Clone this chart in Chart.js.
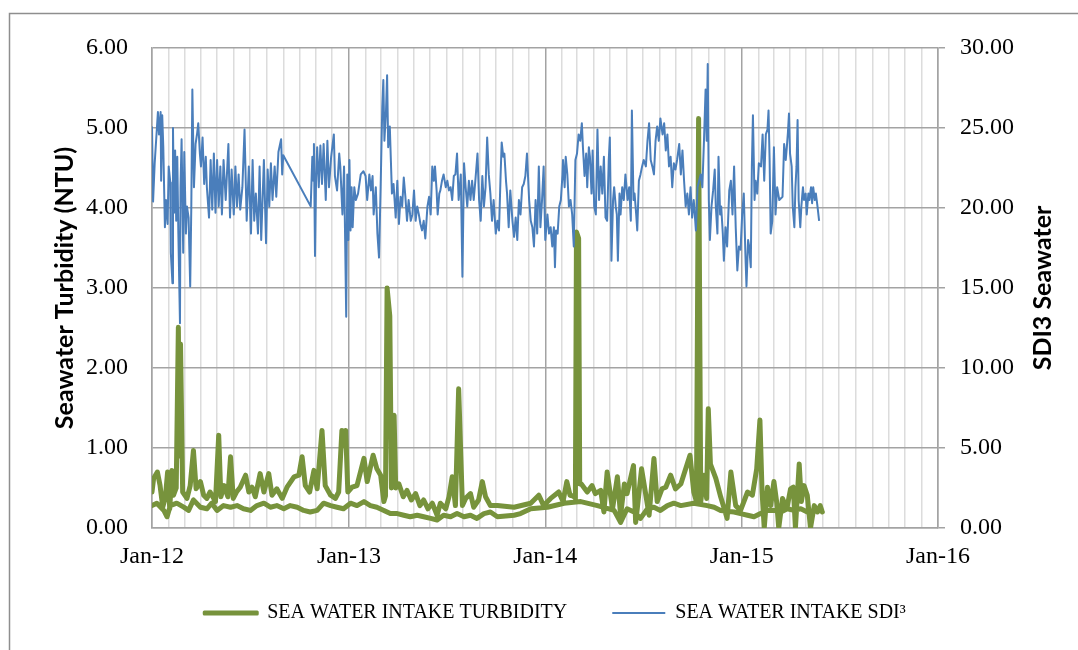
<!DOCTYPE html>
<html>
<head>
<meta charset="utf-8">
<title>Sea water intake turbidity and SDI</title>
<script src="https://cdn.jsdelivr.net/npm/chart.js@4.4.1/dist/chart.umd.min.js"></script>
<style>
  html, body { margin: 0; padding: 0; background: #ffffff; }
  #wrap { width: 1078px; height: 650px; position: relative; }
</style>
</head>
<body>
<div id="wrap"><canvas id="chart" width="1078" height="650"></canvas></div>
<script>
// ---- data: x = days since 1 Jan 2012 ----
const yearTickLabels = ['Jan-12', 'Jan-13', 'Jan-14', 'Jan-15', 'Jan-16'];
const seriesLabels = ['SEA WATER INTAKE TURBIDITY', 'SEA WATER INTAKE SDI\u00B3'];
const leftAxisTitle = 'Seawater Turbidity (NTU)';
const rightAxisTitle = 'SDI3 Seawater';

// SDI readings [day, SDI]
const sdiReadings = [
  [0,25.1],[2,20.4],[5,22.8],[11,26.0],[13,24.6],[16,26.0],[17,21.7],[19,25.8],[21,23.8],[24,18.8],
  [26,20.5],[29,19.0],[31,22.6],[34,21.6],[35,17.2],[38,15.3],[39,25.0],[41,19.7],[43,23.6],[45,19.2],
  [47,23.2],[49,18.4],[52,12.8],[53,21.3],[55,24.3],[58,17.2],[60,23.5],[63,18.4],[65,20.1],[68,19.4],
  [71,15.1],[73,19.9],[75,27.4],[78,21.3],[81,24.0],[84,24.7],[86,25.3],[89,23.4],[91,22.6],[94,24.4],
  [97,21.5],[100,23.2],[102,21.3],[106,19.4],[109,23.0],[112,19.9],[115,23.4],[118,19.7],[121,23.0],[124,20.1],
  [127,22.6],[130,19.6],[133,23.0],[137,20.5],[140,22.6],[142,24.0],[145,19.4],[148,22.4],[152,19.6],[155,22.6],
  [158,20.1],[161,22.1],[164,19.9],[168,21.3],[172,24.9],[176,19.2],[180,22.6],[184,18.4],[187,23.0],[190,19.2],
  [193,20.9],[197,18.4],[200,22.6],[203,18.0],[208,23.0],[212,17.8],[215,22.4],[218,20.1],[221,22.8],[224,20.5],
  [228,22.6],[231,20.7],[235,23.5],[240,24.3],[242,22.1],[244,23.3],[295,20.1],[298,23.2],[300,21.7],[301,24.0],
  [303,17.0],[305,21.9],[307,23.8],[310,21.3],[313,23.9],[316,21.5],[319,24.0],[323,20.5],[326,24.2],[329,21.3],
  [333,23.2],[338,24.6],[340,22.0],[344,21.1],[348,23.4],[350,22.6],[354,19.6],[357,22.6],[359,18.0],[361,13.2],
  [363,22.1],[365,18.0],[367,23.0],[369,18.6],[371,21.3],[373,18.8],[376,21.3],[379,20.5],[383,20.9],[388,22.1],
  [393,22.3],[397,22.0],[400,20.5],[404,22.1],[407,21.1],[410,22.0],[412,19.6],[416,21.3],[419,18.4],[422,16.9],
  [425,21.3],[428,26.3],[430,28.0],[432,24.2],[435,26.1],[437,28.3],[439,23.8],[442,25.1],[446,20.9],[449,21.5],
  [453,19.4],[456,21.7],[459,19.0],[462,20.7],[465,20.1],[468,21.9],[471,20.7],[474,19.2],[477,20.5],[481,19.2],
  [484,19.6],[487,21.1],[490,19.2],[493,20.1],[496,19.6],[499,19.0],[502,18.6],[505,19.2],[508,18.1],[512,20.1],
  [515,20.7],[518,19.6],[521,22.6],[524,21.7],[526,22.6],[529,21.1],[531,19.6],[534,20.9],[536,21.1],[539,21.7],
  [542,22.1],[546,21.3],[549,21.7],[552,21.1],[555,21.3],[558,20.5],[561,22.0],[564,22.1],[567,23.4],[570,20.5],
  [574,22.1],[577,15.7],[580,22.8],[583,21.3],[586,20.1],[589,21.7],[592,20.5],[595,21.7],[598,20.5],[601,21.7],
  [605,23.4],[608,20.5],[611,19.2],[614,22.0],[617,20.1],[620,21.3],[623,24.4],[626,22.1],[629,20.9],[632,19.2],
  [635,20.5],[639,18.4],[642,19.2],[645,18.6],[648,22.1],[650,24.1],[653,23.2],[655,23.4],[658,21.7],[660,20.9],
  [663,18.8],[666,21.1],[670,19.2],[673,18.2],[676,19.4],[679,18.0],[682,20.5],[685,19.6],[688,21.3],[691,21.5],
  [694,22.0],[697,23.4],[701,20.5],[704,19.2],[707,18.8],[710,17.6],[713,20.5],[716,18.4],[719,22.6],[722,18.8],
  [725,20.5],[728,22.6],[731,18.0],[735,19.6],[738,18.4],[741,18.8],[744,17.6],[747,18.8],[749,16.3],[751,18.6],
  [754,18.4],[757,20.1],[760,20.5],[763,22.1],[764,23.0],[767,21.3],[769,23.2],[772,22.1],[775,20.1],[778,20.5],
  [781,19.6],[784,17.6],[787,23.0],[790,23.4],[793,24.6],[796,24.2],[799,25.3],[801,23.8],[804,22.0],[807,23.4],
  [809,21.3],[812,23.8],[814,23.2],[817,20.9],[819,23.6],[822,20.1],[825,19.6],[828,24.9],[831,20.5],[834,22.6],
  [837,20.9],[840,23.2],[843,19.4],[846,19.2],[849,23.0],[851,24.4],[854,16.7],[857,20.5],[859,21.3],[862,20.1],
  [864,19.6],[866,16.7],[869,20.9],[871,19.6],[874,21.3],[877,20.5],[880,22.1],[884,20.5],[887,21.3],[890,19.2],
  [892,26.1],[895,20.5],[897,20.9],[900,19.6],[902,18.6],[905,21.7],[908,22.1],[911,22.6],[914,23.0],[918,22.6],
  [921,24.2],[924,25.3],[927,23.0],[930,22.6],[933,22.1],[936,24.2],[939,25.1],[942,24.2],[945,25.6],[949,24.6],
  [952,25.3],[955,23.6],[958,24.6],[961,22.6],[964,23.2],[967,21.3],[970,22.8],[973,22.4],[976,23.0],[980,24.0],
  [983,22.1],[986,23.6],[989,21.7],[992,20.1],[995,20.9],[998,19.6],[1001,21.3],[1004,19.4],[1007,20.5],[1011,18.6],
  [1014,21.3],[1017,21.7],[1020,22.1],[1023,21.3],[1026,24.2],[1029,27.4],[1031,24.2],[1033,29.0],[1035,20.5],[1037,18.0],
  [1040,20.1],[1043,21.1],[1046,22.4],[1048,20.1],[1051,18.4],[1053,23.2],[1056,19.6],[1058,20.1],[1061,18.4],[1063,16.7],
  [1066,18.8],[1069,17.6],[1073,21.1],[1076,21.7],[1079,19.6],[1082,22.6],[1085,18.8],[1088,16.1],[1091,17.6],[1094,17.4],
  [1097,19.6],[1100,20.9],[1103,17.1],[1105,15.1],[1108,18.0],[1110,17.6],[1113,16.3],[1115,22.6],[1117,25.8],[1120,20.5],
  [1122,21.7],[1125,20.9],[1128,22.8],[1132,22.6],[1135,24.6],[1138,21.7],[1141,24.6],[1144,24.9],[1146,26.1],[1148,23.0],
  [1150,18.4],[1153,19.2],[1156,23.8],[1159,19.6],[1162,21.3],[1166,20.5],[1172,20.7],[1175,24.0],[1178,23.0],[1180,23.8],
  [1182,24.7],[1184,25.9],[1186,23.4],[1189,22.6],[1191,20.1],[1194,18.8],[1196,21.3],[1198,22.6],[1200,25.5],[1202,20.5],
  [1205,18.8],[1207,20.1],[1210,21.3],[1212,20.5],[1215,20.9],[1217,19.6],[1220,20.9],[1222,20.5],[1225,21.3],[1227,20.3],
  [1229,21.3],[1232,20.5],[1234,20.9],[1237,20.1],[1240,19.2]
];

// Turbidity [day, NTU]: the record runs forward through the period, then back again
const turbidityOutbound = [
  [0,0.45],[3,0.62],[10,0.70],[15,0.53],[20,0.26],[25,0.39],[29,0.70],[33,0.24],[37,0.72],[40,0.41],
  [45,0.50],[49,2.51],[51,0.90],[53,2.30],[57,0.45],[65,0.37],[71,0.53],[77,0.97],[82,0.49],[90,0.58],
  [96,0.41],[102,0.37],[108,0.45],[118,0.33],[124,1.16],[128,0.39],[134,0.53],[141,0.39],[146,0.89],[151,0.37],
  [157,0.45],[164,0.51],[174,0.66],[180,0.45],[186,0.51],[192,0.39],[201,0.68],[208,0.45],[217,0.68],[223,0.41],
  [232,0.49],[242,0.37],[251,0.51],[264,0.64],[273,0.66],[279,0.89],[285,0.53],[293,0.45],[301,0.72],[307,0.49],
  [316,1.22],[322,0.53],[332,0.41],[341,0.37],[347,0.45],[353,1.22],[357,1.03],[360,1.22],[364,0.45],[372,0.51],
  [381,0.53],[394,0.87],[400,0.58],[411,0.91],[418,0.74],[425,0.66],[431,0.33],[434,0.40],[437,3.00],[442,2.65],
  [445,0.50],[450,1.41],[453,0.50],[459,0.55],[467,0.39],[474,0.47],[482,0.35],[490,0.43],[498,0.28],[505,0.35],
  [513,0.24],[521,0.31],[530,0.16],[536,0.31],[546,0.24],[552,0.39],[558,0.64],[564,0.28],[570,1.74],[577,0.28],
  [583,0.37],[592,0.43],[598,0.26],[607,0.35],[614,0.58],[620,0.39],[629,0.28],[642,0.28],[673,0.26],[704,0.31],
  [719,0.41],[728,0.28],[741,0.37],[756,0.45],[764,0.33],[771,0.58],[777,0.41],[783,0.40],[787,0.37],[789,3.70],
  [793,3.62],[795,0.55],[798,0.55],[809,0.45],[818,0.53],[824,0.43],[834,0.47],[840,0.20],[846,0.70],[856,0.24],
  [865,0.64],[871,0.16],[878,0.55],[883,0.43],[895,0.78],[899,0.07],[902,0.24],[910,0.74],[917,0.45],[924,0.16],
  [933,0.87],[939,0.33],[948,0.49],[955,0.51],[964,0.66],[973,0.49],[983,0.55],[1000,0.91],[1007,0.45],[1012,0.33],
  [1016,5.12],[1020,0.33],[1026,0.66],[1031,0.37],[1034,1.49],[1038,0.80],[1048,0.62],[1057,0.39],[1069,0.12],[1076,0.70],
  [1085,0.28],[1094,0.22],[1107,0.45],[1116,0.41],[1124,0.74],[1130,1.35],[1134,0.45],[1138,0.00],[1144,0.51],[1150,0.28],
  [1156,0.58],[1161,0.33],[1165,0.00],[1172,0.37],[1180,0.24],[1187,0.49],[1192,0.51],[1196,0.00],[1203,0.80],[1207,0.33],
  [1212,0.53],[1218,0.41],[1224,0.00],[1231,0.28],[1237,0.20],[1242,0.28],[1246,0.20]
];
const turbidityReturn = [
  [0,0.28],[9,0.31],[22,0.22],[28,0.14],[34,0.28],[46,0.31],[59,0.26],[68,0.22],[77,0.35],[90,0.26],
  [102,0.24],[111,0.31],[121,0.22],[133,0.28],[146,0.26],[158,0.28],[170,0.24],[183,0.22],[195,0.28],[208,0.31],
  [220,0.26],[232,0.28],[245,0.24],[257,0.28],[270,0.26],[282,0.22],[294,0.20],[307,0.22],[319,0.31],[332,0.28],
  [344,0.26],[356,0.24],[369,0.31],[381,0.28],[394,0.33],[406,0.28],[418,0.26],[431,0.22],[443,0.18],[456,0.18],
  [468,0.16],[480,0.14],[493,0.16],[505,0.14],[518,0.12],[530,0.10],[542,0.16],[555,0.14],[567,0.18],[580,0.14],
  [592,0.16],[604,0.12],[617,0.18],[629,0.20],[642,0.14],[673,0.16],[685,0.18],[704,0.24],[735,0.26],[766,0.31],
  [797,0.33],[828,0.28],[859,0.22],[871,0.07],[883,0.24],[896,0.20],[908,0.12],[921,0.24],[933,0.26],[945,0.22],
  [958,0.28],[970,0.31],[983,0.28],[1007,0.31],[1032,0.28],[1045,0.26],[1057,0.22],[1082,0.20],[1094,0.18],[1107,0.16],
  [1119,0.14],[1131,0.18],[1144,0.22],[1156,0.22],[1169,0.20],[1181,0.24],[1193,0.22],[1206,0.24],[1218,0.20],[1231,0.22],
  [1243,0.24]
];

// ---- calendar helpers ----
const DAY_MS = 86400000;
const ORIGIN = Date.UTC(2012, 0, 1);
const dayOf = (y, m) => (Date.UTC(y, m, 1) - ORIGIN) / DAY_MS;
const monthTicks = [];
for (let y = 2012; y <= 2016; y++) {
  for (let m = 0; m < 12; m++) {
    if (y === 2016 && m > 0) break;
    monthTicks.push(dayOf(y, m));
  }
}
const dateOf = v => new Date(ORIGIN + Math.round(v) * DAY_MS);
const isJanuary = v => dateOf(v).getUTCMonth() === 0;

// ---- styling ----
const SERIF = "'Liberation Serif', 'Times New Roman', serif";
const tickFont = { family: SERIF, size: 24 };
const titleFont = { family: 'Lato', size: 25, weight: 'bold' };
const GREEN = '#77933C';
const BLUE = '#4A7EBB';
const MAJOR = '#a3a3a3';
const MINOR = '#dcdcdc';
const LEGEND_HEIGHT = 60;
const LEGEND_LIFT = 15;

const toXY = pairs => pairs.map(([d, v]) => ({ x: d, y: v }));
const turbidityPath = toXY(turbidityOutbound.concat(turbidityReturn.slice().reverse()));

// chart frame, legend box placement and the right-hand axis title (reads bottom to top)
const framePlugin = {
  id: 'frame',
  beforeLayout(chart) {
    const lg = chart.legend;
    if (lg && !lg._fixedHeight) {
      const fit = lg.fit.bind(lg);
      lg.fit = function () { fit(); this.height = LEGEND_HEIGHT; };
      lg._fixedHeight = true;
    }
  },
  afterLayout(chart) {
    const lg = chart.legend;
    if (lg) { lg.top -= LEGEND_LIFT; lg.bottom -= LEGEND_LIFT; }
  },
  beforeDraw(chart) {
    const { ctx } = chart;
    ctx.save();
    ctx.fillStyle = '#ffffff';
    ctx.fillRect(0, 0, chart.width, chart.height);
    ctx.strokeStyle = '#8e8e8e';
    ctx.lineWidth = 1.5;
    ctx.beginPath();
    ctx.moveTo(9.5, chart.height);
    ctx.lineTo(9.5, 13.5);
    ctx.lineTo(chart.width, 13.5);
    ctx.stroke();
    ctx.restore();
  },
  afterDraw(chart) {
    const { ctx, chartArea } = chart;
    const s = chart.scales.y1;
    ctx.save();
    ctx.translate(s.right - 12 - 15, (chartArea.top + chartArea.bottom) / 2);
    ctx.rotate(-Math.PI / 2);
    ctx.font = `bold ${titleFont.size}px Lato`;
    ctx.fillStyle = '#000000';
    ctx.textAlign = 'center';
    ctx.textBaseline = 'middle';
    ctx.fillText(rightAxisTitle, 0, 0);
    ctx.restore();
  }
};

new Chart(document.getElementById('chart'), {
  type: 'line',
  data: {
    datasets: [
      {
        label: seriesLabels[0],
        data: turbidityPath,
        yAxisID: 'y',
        borderColor: GREEN,
        backgroundColor: GREEN,
        borderWidth: 5,
        borderJoinStyle: 'round',
        borderCapStyle: 'round',
        pointRadius: 0,
        tension: 0,
        order: 1
      },
      {
        label: seriesLabels[1],
        data: toXY(sdiReadings),
        yAxisID: 'y1',
        borderColor: BLUE,
        backgroundColor: BLUE,
        borderWidth: 2,
        borderJoinStyle: 'round',
        pointRadius: 0,
        tension: 0,
        order: 0
      }
    ]
  },
  options: {
    responsive: false,
    animation: false,
    events: [],
    layout: { padding: { top: 48, left: 40, right: 8, bottom: 17 } },
    plugins: {
      tooltip: { enabled: false },
      legend: {
        position: 'bottom',
        labels: {
          font: { family: SERIF, size: 20 },
          color: '#000000',
          boxWidth: 53,
          boxHeight: 2,
          padding: 45,
          sort: (a, b) => a.datasetIndex - b.datasetIndex,
          generateLabels(chart) {
            const items = Chart.defaults.plugins.legend.labels.generateLabels(chart);
            items.forEach(it => {
              const thick = it.datasetIndex === 0;
              it.fillStyle = it.strokeStyle;
              it.lineWidth = thick ? 3 : 0;
              it.lineJoin = 'round';
            });
            return items;
          }
        }
      }
    },
    scales: {
      x: {
        type: 'linear',
        min: 0,
        max: dayOf(2016, 0),
        afterBuildTicks(scale) { scale.ticks = monthTicks.map(v => ({ value: v })); },
        afterFit(scale) { scale.height = 45; },
        ticks: {
          autoSkip: false,
          maxRotation: 0,
          minRotation: 0,
          padding: 14,
          font: tickFont,
          color: '#000000',
          callback: v => isJanuary(v) ? yearTickLabels[dateOf(v).getUTCFullYear() - 2012] : ''
        },
        grid: {
          drawTicks: false,
          lineWidth: 1.5,
          color: ctx => (ctx.tick && isJanuary(ctx.tick.value)) ? MAJOR : MINOR
        },
        border: { color: MAJOR, width: 1.5 }
      },
      y: {
        position: 'left',
        min: 0,
        max: 6,
        afterFit(scale) { scale.width = 112; },
        ticks: { stepSize: 1, padding: 24, font: tickFont, color: '#000000', callback: v => v.toFixed(2) },
        grid: { drawTicks: false, lineWidth: 1.5, color: MAJOR },
        border: { color: MAJOR, width: 1.5 },
        title: { display: true, text: leftAxisTitle, font: titleFont, color: '#000000', padding: { top: 10, bottom: 0 } }
      },
      y1: {
        position: 'right',
        min: 0,
        max: 30,
        afterFit(scale) { scale.width = 132; },
        ticks: { stepSize: 5, padding: 15, font: tickFont, color: '#000000', callback: v => v.toFixed(2) },
        grid: { drawOnChartArea: false, drawTicks: true, tickLength: 7, lineWidth: 1.5, color: MAJOR },
        border: { color: MAJOR, width: 1.5 }
      }
    }
  },
  plugins: [framePlugin]
});
</script>
</body>
</html>
